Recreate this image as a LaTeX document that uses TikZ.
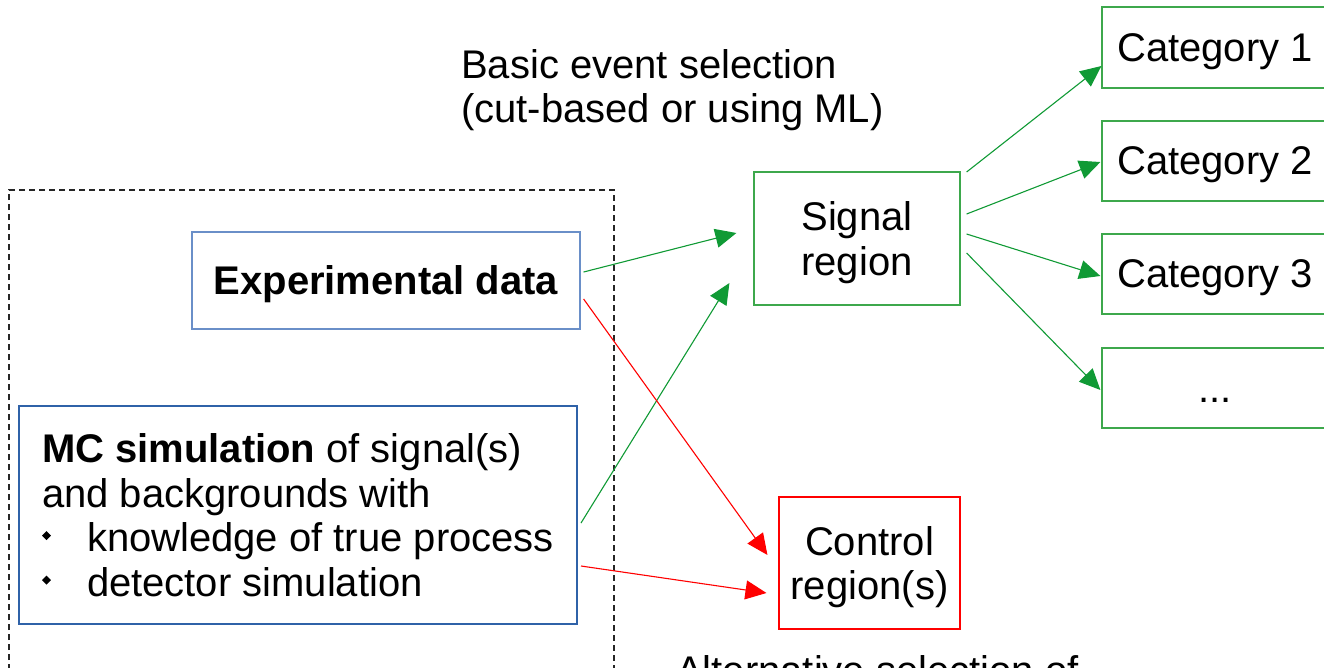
\documentclass[tikz,border=0pt]{standalone}
\usepackage{fontspec}
\setmainfont{Liberation Sans}
\usetikzlibrary{arrows.meta}
\definecolor{gline}{HTML}{109A35}
\definecolor{gbox}{HTML}{3DA84C}
\definecolor{rline}{HTML}{FF0000}
\definecolor{bbox}{HTML}{6A8FC8}
\definecolor{mcblue}{HTML}{2F62A8}
\newcommand\dbul{\raisebox{11.5pt}{\rotatebox{45}{\rule{6.3pt}{6.3pt}}}}
\tikzset{
  txt/.style={font=\fontsize{40}{44.5}\selectfont, text=black},
  gbx/.style={txt, draw=gbox, line width=1.2pt, inner sep=0pt, align=center, text depth=0pt},
  garrow/.style={draw=gline, line width=1.1pt, -{Triangle[length=21pt,width=19pt]}},
  rarrow/.style={draw=rline, line width=1.1pt, -{Triangle[length=21pt,width=19pt]}},
}
\begin{document}
\begin{tikzpicture}[x=1pt,y=-1pt]
\useasboundingbox (0,0) rectangle (1324,667);
\clip (0,0) rectangle (1324,667);
% dashed frame
\draw[black!85, line width=1.1pt, dash pattern=on 6pt off 4pt] (9,690) -- (9,190) -- (614,190) -- (614,690);
% boxes
\node[txt, draw=bbox, line width=1.2pt, minimum width=388pt, minimum height=97pt, inner sep=0pt, text depth=0pt, font=\fontsize{40}{44.5}\selectfont\bfseries] (exp) at (386,280.5) {Experimental data};
\node[txt, draw=mcblue, line width=2pt, inner sep=0pt, minimum width=558pt, minimum height=218pt, align=left] (mc) at (298,515)
 {\textbf{MC simulation} of signal(s)\\and backgrounds with\\\makebox[45pt][l]{\dbul}knowledge of true process\\\makebox[45pt][l]{\dbul}detector simulation};
\node[gbx, minimum width=206pt, minimum height=133pt] (sig) at (857,238.5) {Signal\\region};
\node[txt, draw=rline, line width=1.1pt, inner sep=0pt, align=center, text depth=0pt, minimum width=181pt, minimum height=132pt] (ctrl) at (869.5,563) {Control\\region(s)};
\node[gbx, minimum width=226pt, minimum height=81pt] (c1) at (1215,47.5) {Category 1};
\node[gbx, minimum width=226pt, minimum height=80pt] (c2) at (1215,161) {Category 2};
\node[gbx, minimum width=226pt, minimum height=80pt] (c3) at (1215,274) {Category 3};
\node[gbx, minimum width=226pt, minimum height=80pt, text height=28pt] (c4) at (1215,388) {...};
% labels
\node[txt, anchor=base west, inner sep=0pt] (basic) at (461,78) {Basic event selection};
\node[txt, anchor=base west, inner sep=0pt] (basic2) at (461,122) {(cut-based or using ML)};
\node[txt, anchor=base west, inner sep=0pt] (alt) at (676,684) {Alternative selection of};
% arrows
\draw[garrow] ([xshift=3pt,yshift=8.5pt]exp.east) -- ([xshift=-17pt,yshift=5.5pt]sig.west);
\draw[garrow] ([xshift=3pt,yshift=-8pt]mc.east) -- ([xshift=-24pt,yshift=-44.5pt]sig.west);
\draw[rarrow] ([xshift=3pt,yshift=-18.5pt]exp.east) -- ([xshift=-11pt,yshift=8pt]ctrl.west);
\draw[rarrow] ([xshift=3pt,yshift=-51pt]mc.east) -- ([xshift=-12pt,yshift=-30pt]ctrl.west);
\draw[garrow] ([xshift=6pt,yshift=66.5pt]sig.east) -- ([yshift=-18.5pt]c1.west);
\draw[garrow] ([xshift=6pt,yshift=24.5pt]sig.east) -- ([xshift=-1pt,yshift=-1pt]c2.west);
\draw[garrow] ([xshift=6pt,yshift=4.5pt]sig.east) -- ([xshift=-1pt,yshift=-2pt]c3.west);
\draw[garrow] ([xshift=6pt,yshift=-14.5pt]sig.east) -- ([xshift=-1pt,yshift=-2pt]c4.west);
\end{tikzpicture}
\end{document}
